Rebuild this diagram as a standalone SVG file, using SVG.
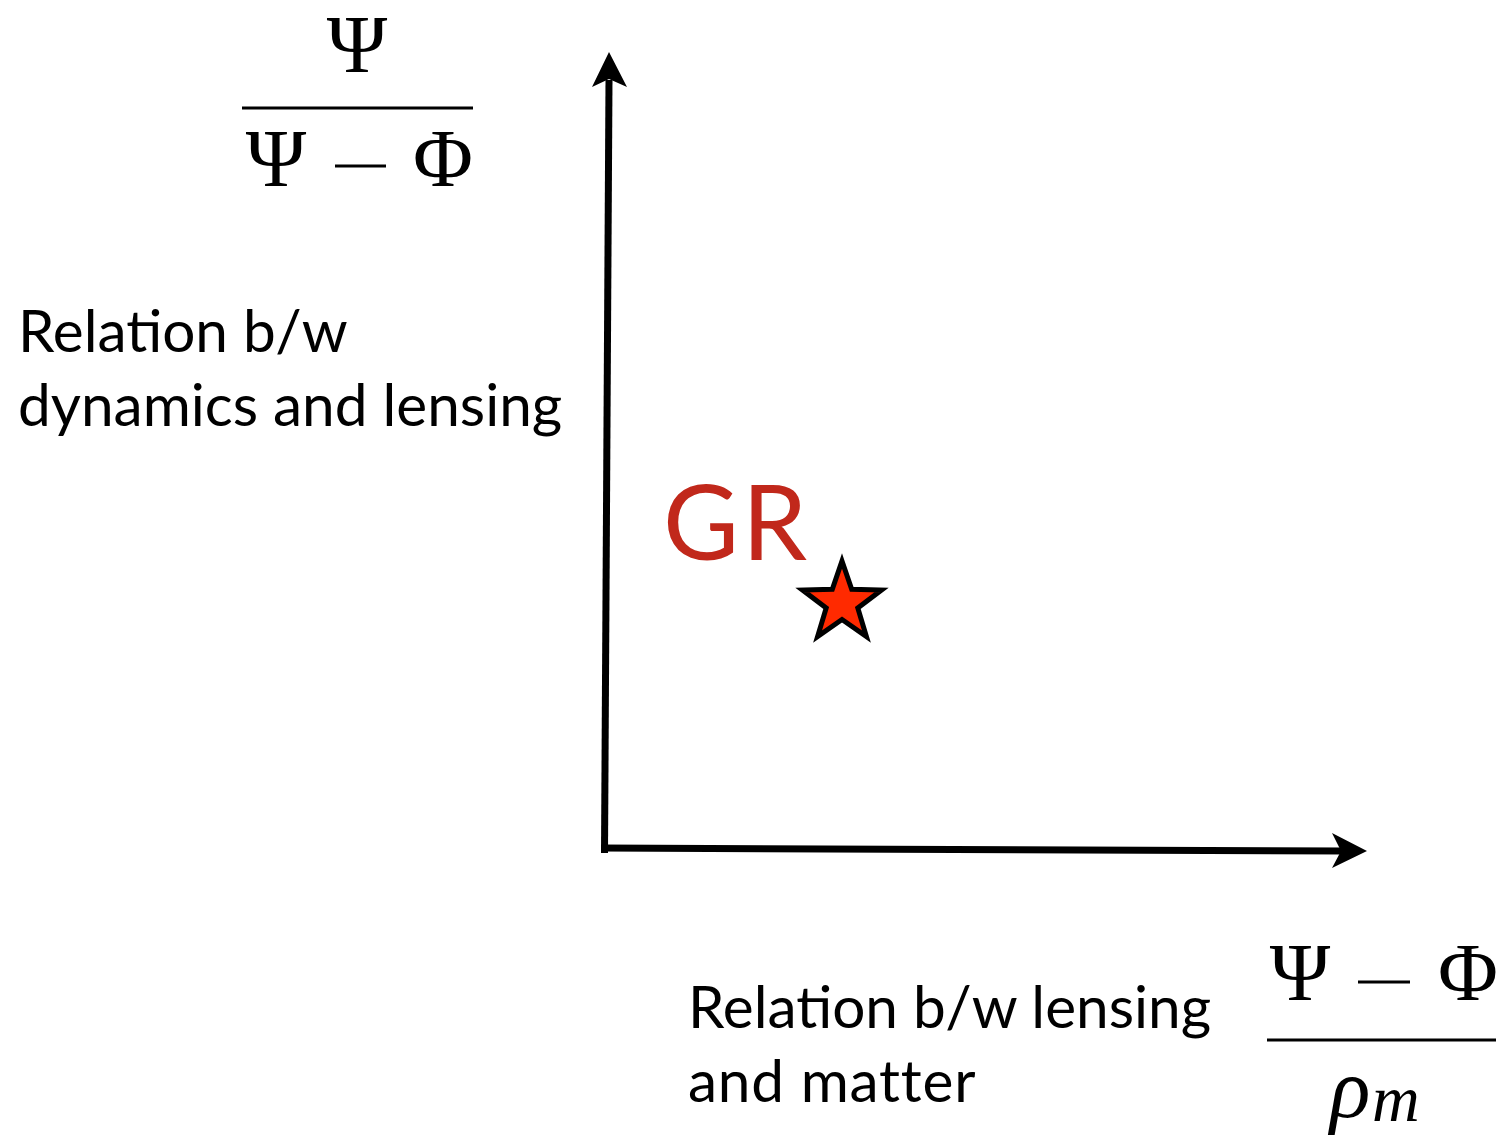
<svg xmlns="http://www.w3.org/2000/svg" width="1496" height="1136" viewBox="0 0 1496 1136">
<style>
.lbl{font-family:Lato,"Liberation Sans",sans-serif;font-size:58.5px;fill:#000}
.math{font-family:"Liberation Serif","DejaVu Serif",serif;font-size:82px;fill:#000}
.mi{font-family:"Liberation Serif","DejaVu Serif",serif;font-style:italic;fill:#000}
.axis{stroke:#000;stroke-width:7;fill:none}
.frac{stroke:#000;stroke-width:3}
</style>
<rect width="1496" height="1136" fill="#fff"/>
<g id="connectors">
<line class="axis" x1="604.5" y1="853" x2="609" y2="80"/>
<path d="M609,52 L592,87 L609,79 L627,87 Z" fill="#000"/>
<line class="axis" x1="601" y1="848" x2="1345" y2="851"/>
<path d="M1367,851 L1332,833 L1341,851 L1332,868 Z" fill="#000"/>
</g>
<g id="y-label">
<text class="math" x="357" y="72" text-anchor="middle">Ψ</text>
<line class="frac" x1="242" y1="108" x2="473" y2="108"/>
<text class="math" x="276" y="186" text-anchor="middle">Ψ</text>
<line x1="335" y1="166" x2="386" y2="166" stroke="#000" stroke-width="3"/>
<text class="math" x="443" y="186" text-anchor="middle">Φ</text>
<text class="lbl" x="18" y="352">Relation b/w</text>
<text class="lbl" x="18" y="426">dynamics and lensing</text>
</g>
<g id="x-label">
<text class="math" x="1300" y="1000" text-anchor="middle">Ψ</text>
<line x1="1358" y1="982" x2="1410" y2="982" stroke="#000" stroke-width="3"/>
<text class="math" x="1468" y="1000" text-anchor="middle">Φ</text>
<line class="frac" x1="1267" y1="1040" x2="1496" y2="1040"/>
<text class="mi" x="1330" y="1117" font-size="84">ρ</text>
<text class="mi" x="1372" y="1121" font-size="66">m</text>
<text class="lbl" x="688" y="1028">Relation b/w lensing</text>
<text class="lbl" x="688" y="1102" letter-spacing="0.8">and matter</text>
</g>
<g id="gr">
<text x="663" y="560" font-family="Lato,'Liberation Sans',sans-serif" font-size="104" letter-spacing="3" fill="#c1281b">GR</text>
<polygon points="842,561 851.7,589.3 881.5,590 857.8,608 866.4,636.5 842,619.5 817.6,636.5 826.2,608 802.5,590 832.3,589.3" fill="#ff2a00" stroke="#000" stroke-width="5" stroke-linejoin="miter"/>
</g>
</svg>
